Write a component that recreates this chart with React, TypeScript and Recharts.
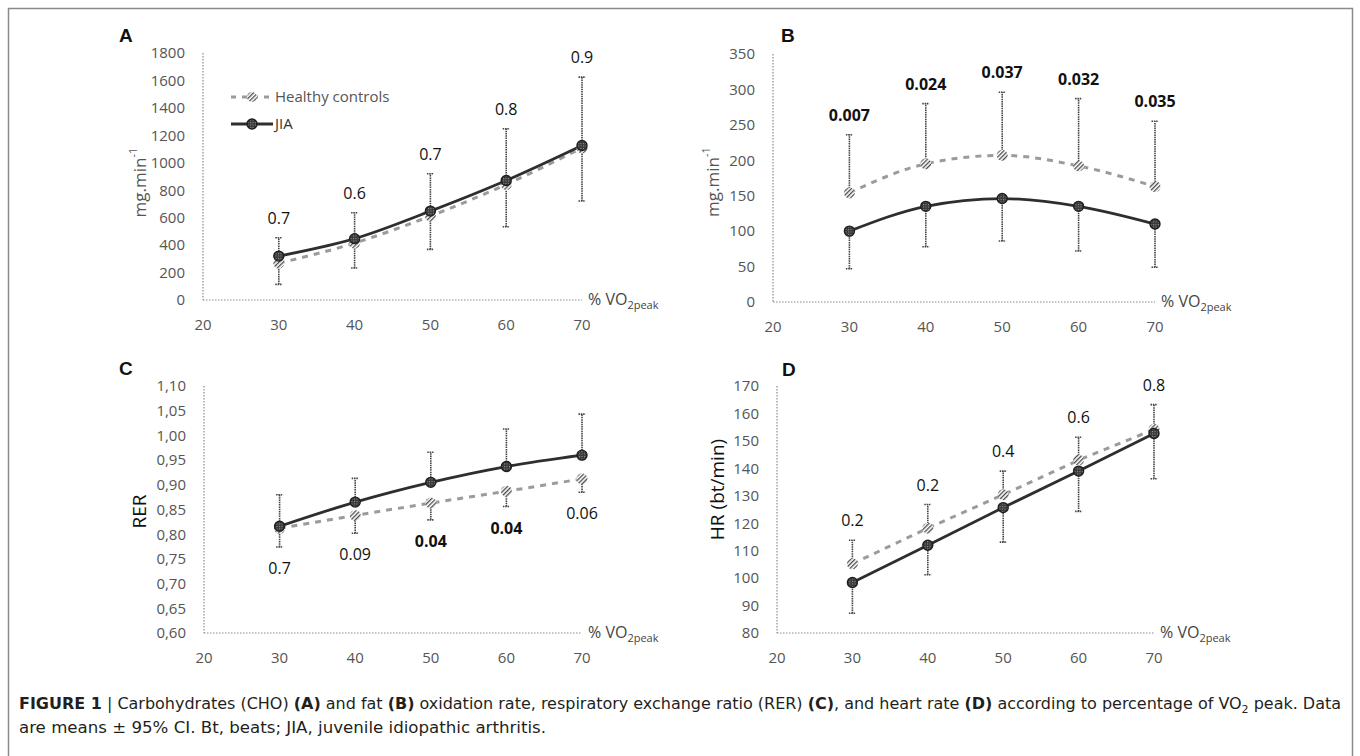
import React from "react";
import { LineChart, Line, XAxis, YAxis, ErrorBar, LabelList, Legend } from "recharts";

// x positions (% VO2peak)
const pct = [30, 40, 50, 60, 70];
const xTicks = [20, 30, 40, 50, 60, 70];

// A: carbohydrate oxidation (mg/min)
const choJia = [320, 447, 648, 871, 1126];
const choHealthy = [268, 415, 612, 842, 1109];
const choUpper = [454, 636, 920, 1248, 1624];
const choLower = [114, 233, 369, 534, 721];
const choP = ["0.7", "0.6", "0.7", "0.8", "0.9"];
const choTicks = [0, 200, 400, 600, 800, 1000, 1200, 1400, 1600, 1800];

// B: fat oxidation (mg/min)
const fatJia = [100, 135, 146, 135, 110];
const fatHealthy = [154, 195, 207, 192, 163];
const fatUpper = [236, 280, 296, 287, 255];
const fatLower = [47, 78, 86, 72, 49];
const fatP = ["0.007", "0.024", "0.037", "0.032", "0.035"];
const fatTicks = [0, 50, 100, 150, 200, 250, 300, 350];

// C: RER
const rerJia = [0.816, 0.865, 0.905, 0.937, 0.96];
const rerHealthy = [0.812, 0.838, 0.863, 0.887, 0.912];
const rerUpper = [0.88, 0.913, 0.966, 1.013, 1.043];
const rerLower = [0.774, 0.802, 0.829, 0.856, 0.885];
const rerP = ["0.7", "0.09", "0.04", "0.04", "0.06"];
const rerTicks = [0.6, 0.65, 0.7, 0.75, 0.8, 0.85, 0.9, 0.95, 1.0, 1.05, 1.1];

// D: heart rate (bt/min)
const hrJia = [98.4, 112.0, 125.7, 139.0, 152.7];
const hrHealthy = [105.2, 118.2, 130.4, 143.0, 154.2];
const hrUpper = [113.8, 126.8, 139.0, 151.3, 163.2];
const hrLower = [87.2, 101.2, 113.1, 124.3, 136.2];
const hrP = ["0.2", "0.2", "0.4", "0.6", "0.8"];
const hrTicks = [80, 90, 100, 110, 120, 130, 140, 150, 160, 170];

type Side = "top" | "bottom";

// one-sided CI bars: the higher series gets the upper bar, the lower one the lower bar
function buildRows(
  jia: number[],
  healthy: number[],
  upper: number[],
  lower: number[],
  p: string[],
  upperOn: "jia" | "healthy",
  labelSide: Side
) {
  return pct.map((x, i) => {
    const hi = upperOn === "jia" ? jia[i] : healthy[i];
    const lo = upperOn === "jia" ? healthy[i] : jia[i];
    const up = upper[i] - hi;
    const down = lo - lower[i];
    return {
      x,
      jia: jia[i],
      healthy: healthy[i],
      jiaErr: upperOn === "jia" ? [0, up] : [down, 0],
      healthyErr: upperOn === "jia" ? [down, 0] : [0, up],
      anchor: labelSide === "top" ? upper[i] : lower[i],
      p: p[i],
    };
  });
}

const FONT = "'Open Sans', 'DejaVu Sans', sans-serif";
const axisLine = { stroke: "#8a8a8a", strokeWidth: 1.2, strokeDasharray: "1.5 1.5" };
const tickStyle = { fill: "#555", fontSize: 15, fontFamily: FONT };

const JiaDot = (props: any) => {
  const { cx, cy, index } = props;
  if (cx == null || cy == null) return null;
  return <circle key={`j${index}`} cx={cx} cy={cy} r={5} fill="url(#jiaFill)" stroke="#1e1e1e" strokeWidth={1.4} />;
};

const HealthyDot = (props: any) => {
  const { cx, cy, index } = props;
  if (cx == null || cy == null) return null;
  return <circle key={`h${index}`} cx={cx} cy={cy} r={5.5} fill="url(#hatch)" />;
};

const VoLabel = (props: any) => {
  const vb = props.viewBox;
  if (!vb) return null;
  return (
    <text x={vb.x + vb.width + 6} y={vb.y + 5} fontFamily={FONT} fontSize={16} fill="#444">
      % VO
      <tspan dy={4} fontSize={11}>2peak</tspan>
    </text>
  );
};

const makeYLabel = (text: React.ReactNode, dx: number, dy: number, color: string, size: number) =>
  (props: any) => {
    const vb = props.viewBox;
    if (!vb) return null;
    const cx = vb.x + vb.width - dx;
    const cy = vb.y + vb.height / 2 + dy;
    return (
      <text
        x={cx}
        y={cy}
        transform={`rotate(-90, ${cx}, ${cy})`}
        textAnchor="middle"
        dominantBaseline="central"
        fontFamily={FONT}
        fontSize={size}
        fill={color}
      >
        {text}
      </text>
    );
  };

const makePLabel = (side: Side) => (props: any) => {
  const { x, y, value, index } = props;
  if (x == null || y == null) return null;
  const bold = parseFloat(value) < 0.05;
  const ty = side === "top" ? y - 14 : y + 27;
  return (
    <text
      key={`p${index}`}
      x={x}
      y={ty}
      textAnchor="middle"
      fontFamily={FONT}
      fontSize={16}
      fontWeight={bold ? 700 : 400}
      fill="#111"
    >
      {value}
    </text>
  );
};

const LegendBox = () => (
  <div style={{ fontFamily: FONT, fontSize: 15, lineHeight: "27px" }}>
    <div style={{ display: "flex", alignItems: "center", color: "#555" }}>
      <svg width={44} height={14}>
        <line x1={1} y1={7} x2={43} y2={7} stroke="#9b9b9b" strokeWidth={3} strokeDasharray="5 6" />
        <circle cx={22} cy={7} r={5} fill="url(#hatch)" />
      </svg>
      <span style={{ marginLeft: 1 }}>Healthy controls</span>
    </div>
    <div style={{ display: "flex", alignItems: "center", color: "#333" }}>
      <svg width={44} height={14}>
        <line x1={1} y1={7} x2={43} y2={7} stroke="#2e2e2e" strokeWidth={2.8} />
        <circle cx={22} cy={7} r={5} fill="url(#jiaFill)" stroke="#1e1e1e" strokeWidth={1.4} />
      </svg>
      <span style={{ marginLeft: 1 }}>JIA</span>
    </div>
  </div>
);

type PanelProps = {
  rows: any[];
  plot: { left: number; top: number; right: number; bottom: number };
  yDomain: [number, number];
  yTicks: number[];
  yFmt?: (v: number) => string;
  yLabel: (props: any) => React.ReactNode;
  curve: "monotone" | "linear";
  labelSide: Side;
  legend?: boolean;
};

function Panel({ rows, plot, yDomain, yTicks, yFmt, yLabel, curve, labelSide, legend }: PanelProps) {
  const left = plot.left - 110;
  const top = plot.top - 30;
  const w = plot.right - plot.left + 210;
  const h = plot.bottom - plot.top + 75;
  return (
    <div style={{ position: "absolute", left, top, width: w, height: h }}>
      <LineChart width={w} height={h} data={rows} margin={{ top: 30, right: 100, bottom: 15, left: 50 }}>
        <XAxis
          type="number"
          dataKey="x"
          domain={[20, 70]}
          ticks={xTicks}
          interval={0}
          tickLine={false}
          tickSize={0}
          tickMargin={19}
          axisLine={axisLine}
          tick={tickStyle}
          height={30}
          label={{ content: VoLabel }}
        />
        <YAxis
          type="number"
          domain={yDomain}
          ticks={yTicks}
          interval={0}
          tickLine={false}
          tickSize={0}
          tickMargin={18}
          axisLine={axisLine}
          tick={tickStyle}
          tickFormatter={yFmt}
          width={60}
          label={{ content: yLabel }}
        />
        {legend && (
          <Legend
            layout="vertical"
            align="center"
            verticalAlign="middle"
            content={() => <LegendBox />}
            wrapperStyle={{ left: 137, top: 60, width: 200 }}
          />
        )}
        <Line
          type={curve}
          dataKey="healthy"
          stroke="#9b9b9b"
          strokeWidth={3}
          strokeDasharray="6 6"
          dot={HealthyDot}
          activeDot={false}
          isAnimationActive={false}
        >
          <ErrorBar dataKey="healthyErr" direction="y" width={3.5} stroke="#444" strokeWidth={1.6} strokeDasharray="1.5 0.8" />
        </Line>
        <Line
          type={curve}
          dataKey="jia"
          stroke="#2e2e2e"
          strokeWidth={2.8}
          dot={JiaDot}
          activeDot={false}
          isAnimationActive={false}
        >
          <ErrorBar dataKey="jiaErr" direction="y" width={3.5} stroke="#444" strokeWidth={1.6} strokeDasharray="1.5 0.8" />
        </Line>
        <Line
          type="linear"
          dataKey="anchor"
          stroke="none"
          dot={false}
          activeDot={false}
          legendType="none"
          isAnimationActive={false}
        >
          <LabelList dataKey="p" content={makePLabel(labelSide)} />
        </Line>
      </LineChart>
    </div>
  );
}

const mgLabel = (
  <>
    mg.min
    <tspan dy={-7} fontSize={11}>-1</tspan>
  </>
);

const commaFmt = (v: number) => v.toFixed(2).replace(".", ",");

export default function App() {
  const rowsA = buildRows(choJia, choHealthy, choUpper, choLower, choP, "jia", "top");
  const rowsB = buildRows(fatJia, fatHealthy, fatUpper, fatLower, fatP, "healthy", "top");
  const rowsC = buildRows(rerJia, rerHealthy, rerUpper, rerLower, rerP, "jia", "bottom");
  const rowsD = buildRows(hrJia, hrHealthy, hrUpper, hrLower, hrP, "healthy", "top");

  const capFont = "'Liberation Sans Narrow', 'DejaVu Sans Condensed', 'Liberation Sans', sans-serif";

  return (
    <div style={{ position: "absolute", left: 0, top: 0, width: 1360, height: 756, background: "#fff", overflow: "hidden" }}>
      <svg width={1360} height={756} style={{ position: "absolute", left: 0, top: 0 }}>
        <defs>
          <pattern id="hatch" patternUnits="userSpaceOnUse" width={3} height={3} patternTransform="rotate(45)">
            <rect width={3} height={3} fill="#fff" />
            <rect width={1.3} height={3} fill="#4a4a4a" />
          </pattern>
          <pattern id="jiaFill" patternUnits="userSpaceOnUse" width={2.5} height={2.5}>
            <rect width={2.5} height={2.5} fill="#3a3a3a" />
            <rect width={1} height={1} fill="#9a9a9a" />
          </pattern>
        </defs>
        <rect x={8.5} y={8.5} width={1344} height={780} fill="none" stroke="#8a8a8a" strokeWidth={1.5} />
        <g fontFamily="'Liberation Sans', Arial, sans-serif" fontWeight={700} fontSize={19} fill="#111">
          <text x={119} y={42}>A</text>
          <text x={781} y={42}>B</text>
          <text x={119} y={375}>C</text>
          <text x={782} y={376}>D</text>
        </g>
        <text
          x={19}
          y={709}
          fontFamily={capFont}
          fontSize={16}
          fill="#231f20"
          textLength={1322}
          lengthAdjust="spacingAndGlyphs"
        >
          <tspan fontWeight={700}>FIGURE 1</tspan>
          <tspan>{" | Carbohydrates (CHO) "}</tspan>
          <tspan fontWeight={700}>(A)</tspan>
          <tspan>{" and fat "}</tspan>
          <tspan fontWeight={700}>(B)</tspan>
          <tspan>{" oxidation rate, respiratory exchange ratio (RER) "}</tspan>
          <tspan fontWeight={700}>(C)</tspan>
          <tspan>{", and heart rate "}</tspan>
          <tspan fontWeight={700}>(D)</tspan>
          <tspan>{" according to percentage of VO"}</tspan>
          <tspan fontSize={11} dy={4}>2</tspan>
          <tspan dy={-4}>{" peak. Data"}</tspan>
        </text>
        <text
          x={19}
          y={733}
          fontFamily={capFont}
          fontSize={16}
          fill="#231f20"
          textLength={527}
          lengthAdjust="spacingAndGlyphs"
        >
          are means ± 95% CI. Bt, beats; JIA, juvenile idiopathic arthritis.
        </text>
      </svg>

      <Panel
        rows={rowsA}
        plot={{ left: 203, top: 53, right: 582, bottom: 300 }}
        yDomain={[0, 1800]}
        yTicks={choTicks}
        yLabel={makeYLabel(mgLabel, 64, 6, "#555", 17)}
        curve="monotone"
        labelSide="top"
        legend
      />
      <Panel
        rows={rowsB}
        plot={{ left: 773, top: 54, right: 1155, bottom: 302 }}
        yDomain={[0, 350]}
        yTicks={fatTicks}
        yLabel={makeYLabel(mgLabel, 61, 4, "#555", 17)}
        curve="monotone"
        labelSide="top"
      />
      <Panel
        rows={rowsC}
        plot={{ left: 204, top: 386, right: 582, bottom: 633 }}
        yDomain={[0.6, 1.1]}
        yTicks={rerTicks}
        yFmt={commaFmt}
        yLabel={makeYLabel("RER", 65, 2, "#111", 19)}
        curve="monotone"
        labelSide="bottom"
      />
      <Panel
        rows={rowsD}
        plot={{ left: 777, top: 386, right: 1154, bottom: 633 }}
        yDomain={[80, 170]}
        yTicks={hrTicks}
        yLabel={makeYLabel("HR (bt/min)", 60, -20, "#111", 19)}
        curve="linear"
        labelSide="top"
      />
    </div>
  );
}
